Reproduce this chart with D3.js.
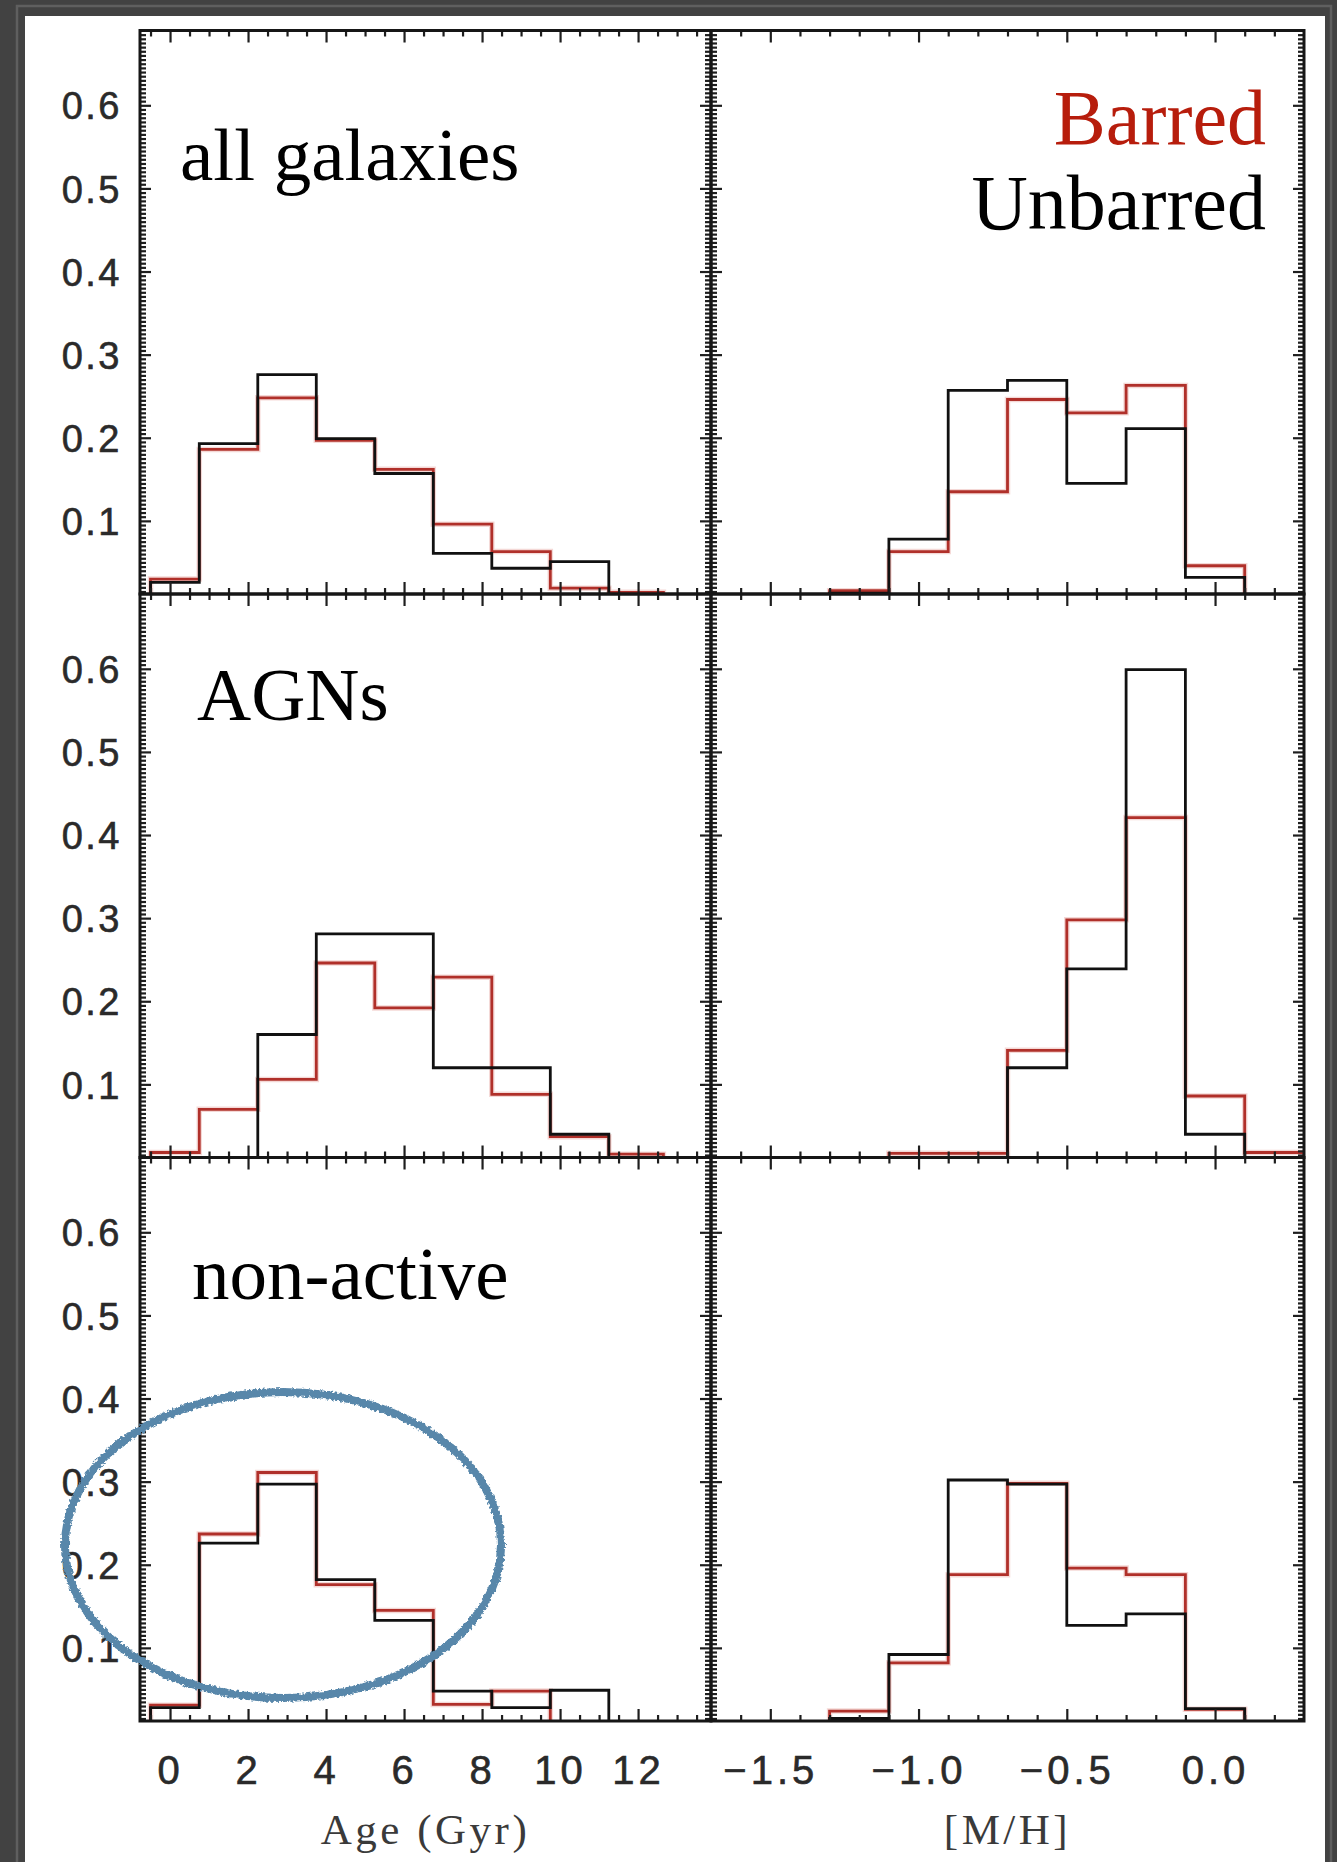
<!DOCTYPE html>
<html><head><meta charset="utf-8">
<script src="https://cdn.jsdelivr.net/npm/d3@7"></script>
<style>body{margin:0;background:#434343}svg{display:block}</style>
</head><body>
<svg id="chart" width="1337" height="1862"></svg>
<script>
// ---------- data ----------
const panelLabels = ["all galaxies", "AGNs", "non-active"];
const legendLabels = ["Barred", "Unbarred"];
const xTitles = ["Age (Gyr)", "[M/H]"];
const yTicks = [0.1, 0.2, 0.3, 0.4, 0.5, 0.6];
const ageTicks = [0, 2, 4, 6, 8, 10, 12];
const metalTicks = [-1.5, -1.0, -0.5, 0.0];
// histogram bin edges
const ageEdges = [-0.5, 0.75, 2.25, 3.75, 5.25, 6.75, 8.25, 9.75, 11.25, 12.65];
const metalEdges = [-1.3, -1.1, -0.9, -0.7, -0.5, -0.3, -0.1, 0.1, 0.3];
// age distributions (fraction per bin)
const ageUnbarredAll = [0.026, 0.193, 0.276, 0.199, 0.157, 0.061, 0.043, 0.051, 0];
const ageBarredAll   = [0.030, 0.186, 0.248, 0.197, 0.162, 0.096, 0.063, 0.019, 0.014];
const ageUnbarredAGN = [0, 0, 0.160, 0.281, 0.281, 0.120, 0.120, 0.040, 0];
const ageBarredAGN   = [0.018, 0.070, 0.106, 0.246, 0.192, 0.229, 0.088, 0.037, 0.016];
const ageUnbarredNon = [0.028, 0.226, 0.297, 0.182, 0.133, 0.048, 0.028, 0.049, 0];
const ageBarredNon   = [0.031, 0.237, 0.311, 0.176, 0.145, 0.032, 0.048, 0, 0];
// metallicity distributions
const metalUnbarredAll = [0.013, 0.078, 0.257, 0.269, 0.145, 0.211, 0.032, 0];
const metalBarredAll   = [0.016, 0.063, 0.135, 0.246, 0.230, 0.263, 0.046, 0];
const metalUnbarredAGN = [0, 0, 0, 0.120, 0.239, 0.599, 0.040, 0];
const metalBarredAGN   = [0, 0.017, 0.017, 0.141, 0.298, 0.421, 0.086, 0.018];
const metalUnbarredNon = [0.015, 0.092, 0.302, 0.297, 0.127, 0.141, 0.027, 0];
const metalBarredNon   = [0.024, 0.082, 0.188, 0.298, 0.196, 0.188, 0.026, 0];

// table built from the arrays
const rowsData = [
  {age: [ageBarredAll, ageUnbarredAll], metal: [metalBarredAll, metalUnbarredAll]},
  {age: [ageBarredAGN, ageUnbarredAGN], metal: [metalBarredAGN, metalUnbarredAGN]},
  {age: [ageBarredNon, ageUnbarredNon], metal: [metalBarredNon, metalUnbarredNon]}
];

// ---------- layout ----------
const W = 1337, H = 1862;
const colX = [[140, 711], [711, 1304]];
const rowTop = 30.5, rowH = 563.5;
const yDomain = [0.012, 0.69];
const xDomains = [[-0.77, 13.87], [-1.7, 0.3]];
const redColor = "#b0302a", blackColor = "#111111";

const svg = d3.select("#chart");
const defs = svg.append("defs");

// frame
svg.append("rect").attr("width", W).attr("height", H).attr("fill", "#424242");
svg.append("rect").attr("x", 17).attr("y", 6).attr("width", 1314).attr("height", H)
  .attr("fill", "none").attr("stroke", "#5f5f5f").attr("stroke-width", 2.5);
svg.append("rect").attr("x", 25).attr("y", 16).attr("width", 1300).attr("height", H)
  .attr("fill", "#ffffff");

// rough filter for the hand-drawn ellipse
const f = defs.append("filter").attr("id", "rough").attr("x", "-10%").attr("y", "-10%")
  .attr("width", "120%").attr("height", "120%");
f.append("feTurbulence").attr("type", "fractalNoise").attr("baseFrequency", 0.35)
  .attr("numOctaves", 2).attr("result", "noise");
f.append("feDisplacementMap").attr("in", "SourceGraphic").attr("in2", "noise")
  .attr("scale", 5).attr("xChannelSelector", "R").attr("yChannelSelector", "G");

const ageMinor = d3.range(-1, 28).map(i => i * 0.5).filter(v => v % 2 !== 0 && v > -0.77 && v < 13.87);
const metalMinor = d3.range(-16, 3).map(i => i / 10).filter(v => Math.abs(Math.round(v * 10) % 5) !== 0);
const yMinor = d3.range(3, 138).filter(i => i % 20 !== 0).map(i => i * 0.005);

for (let r = 0; r < 3; r++) {
  const top = rowTop + r * rowH, bottom = top + rowH;
  const y = d3.scaleLinear().domain(yDomain).range([bottom, top]);
  for (let c = 0; c < 2; c++) {
    const [x0, x1] = colX[c];
    const x = d3.scaleLinear().domain(xDomains[c]).range([x0, x1]);
    const majors = c === 0 ? ageTicks : metalTicks;
    const minors = c === 0 ? ageMinor : metalMinor;
    const edges = c === 0 ? ageEdges : metalEdges;
    const series = c === 0 ? rowsData[r].age : rowsData[r].metal;
    const g = svg.append("g");

    const clipId = `clip-${r}-${c}`;
    defs.append("clipPath").attr("id", clipId).append("rect")
      .attr("x", x0).attr("y", top).attr("width", x1 - x0).attr("height", rowH);

    // histograms: barred (red) first, then unbarred (black)
    const line = d3.line().x(d => x(d[0])).y(d => y(d[1])).curve(d3.curveStepAfter);
    series.forEach((vals, si) => {
      const pts = [[edges[0], 0]];
      vals.forEach((v, i) => pts.push([edges[i], v]));
      pts.push([edges[vals.length], vals[vals.length - 1]]);
      pts.push([edges[vals.length], 0]);
      const hg = g.append("g").attr("clip-path", `url(#${clipId})`);
      if (si === 0) {
        hg.append("path").attr("d", line(pts)).attr("fill", "none")
          .attr("stroke", "#e7a9a4").attr("stroke-width", 5.5).attr("stroke-opacity", 0.45);
      }
      hg.append("path").attr("d", line(pts)).attr("fill", "none")
        .attr("stroke", si === 0 ? redColor : blackColor).attr("stroke-width", 2.8)
        .attr("stroke-linejoin", "miter");
    });

    // ticks (all inward)
    const tickStyle = sel => {
      sel.select(".domain").remove();
      sel.selectAll("line").attr("stroke", "#1e1e1e").attr("stroke-width", 2.2);
    };
    g.append("g").attr("transform", `translate(${x0},0)`)
      .call(d3.axisRight(y).tickValues(yTicks).tickSize(11).tickFormat("")).call(tickStyle);
    g.append("g").attr("transform", `translate(${x0},0)`)
      .call(d3.axisRight(y).tickValues(yMinor).tickSize(6).tickFormat("")).call(tickStyle);
    g.append("g").attr("transform", `translate(${x1},0)`)
      .call(d3.axisLeft(y).tickValues(yTicks).tickSize(11).tickFormat("")).call(tickStyle);
    g.append("g").attr("transform", `translate(${x1},0)`)
      .call(d3.axisLeft(y).tickValues(yMinor).tickSize(6).tickFormat("")).call(tickStyle);
    g.append("g").attr("transform", `translate(0,${bottom})`)
      .call(d3.axisTop(x).tickValues(majors).tickSize(12).tickFormat("")).call(tickStyle);
    g.append("g").attr("transform", `translate(0,${bottom})`)
      .call(d3.axisTop(x).tickValues(minors).tickSize(6).tickFormat("")).call(tickStyle);
    g.append("g").attr("transform", `translate(0,${top})`)
      .call(d3.axisBottom(x).tickValues(majors).tickSize(12).tickFormat("")).call(tickStyle);
    g.append("g").attr("transform", `translate(0,${top})`)
      .call(d3.axisBottom(x).tickValues(minors).tickSize(6).tickFormat("")).call(tickStyle);

    // frame
    g.append("rect").attr("x", x0).attr("y", top).attr("width", x1 - x0).attr("height", rowH)
      .attr("fill", "none").attr("stroke", "#161616").attr("stroke-width", 3);

    // y tick labels (left column only)
    if (c === 0) {
      const ya = g.append("g").attr("transform", `translate(${x0},0)`)
        .call(d3.axisLeft(y).tickValues(yTicks).tickSize(0).tickPadding(18).tickFormat(d3.format(".1f")));
      ya.select(".domain").remove();
      ya.selectAll("text").attr("font-family", "'Liberation Sans', Arial, sans-serif")
        .attr("font-size", 38).attr("fill", "#2a2a2a").attr("letter-spacing", 2.5)
        .attr("stroke", "#2a2a2a").attr("stroke-width", 0.6)
        .attr("dy", "0.36em");
    }
    // x tick labels and titles (bottom row)
    if (r === 2) {
      const xa = g.append("g").attr("transform", `translate(0,${bottom})`)
        .call(d3.axisBottom(x).tickValues(majors).tickSize(0).tickPadding(35)
          .tickFormat(c === 0 ? d3.format("d") : d3.format(".1f")));
      xa.select(".domain").remove();
      xa.selectAll("text").attr("font-family", "'Liberation Sans', Arial, sans-serif")
        .attr("font-size", 40).attr("fill", "#2a2a2a").attr("letter-spacing", 4)
        .attr("stroke", "#2a2a2a").attr("stroke-width", 0.6);
      g.append("text").attr("x", (x0 + x1) / 2).attr("y", 1844).attr("text-anchor", "middle")
        .attr("font-family", "'Liberation Serif', serif").attr("font-size", 43)
        .attr("letter-spacing", 3.5).attr("fill", "#3a3a3a").text(xTitles[c]);
    }
  }
}

// panel labels
const labelPos = [[180, 180], [197, 720], [192, 1299]];
panelLabels.forEach((t, i) => {
  svg.append("text").attr("x", labelPos[i][0]).attr("y", labelPos[i][1])
    .attr("font-family", "'Liberation Serif', serif").attr("font-size", 75)
    .attr("fill", "#000").text(t);
});
// legend
svg.append("text").attr("x", 1266).attr("y", 144).attr("text-anchor", "end")
  .attr("font-family", "'Liberation Serif', serif").attr("font-size", 78)
  .attr("fill", "#b71d0c").text(legendLabels[0]);
svg.append("text").attr("x", 1266).attr("y", 229).attr("text-anchor", "end")
  .attr("font-family", "'Liberation Serif', serif").attr("font-size", 78)
  .attr("fill", "#000").text(legendLabels[1]);

// hand-drawn highlight ellipse
svg.append("ellipse").attr("cx", 283).attr("cy", 1545).attr("rx", 218).attr("ry", 153)
  .attr("fill", "none").attr("stroke", "#5887aa").attr("stroke-width", 8)
  .attr("filter", "url(#rough)");
</script>
</body></html>
